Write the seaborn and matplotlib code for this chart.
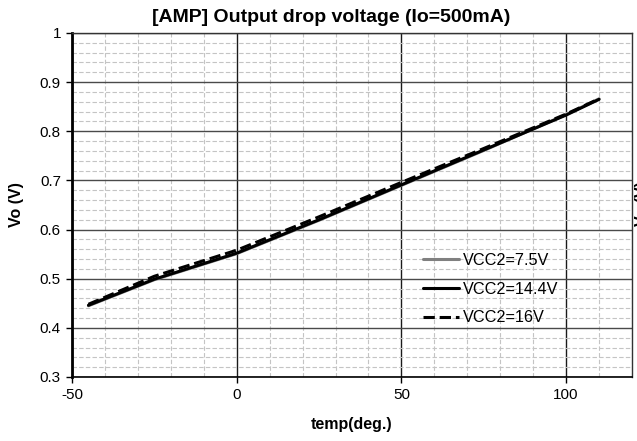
import matplotlib
matplotlib.use("Agg")
import matplotlib.pyplot as plt
from matplotlib.ticker import MultipleLocator
import seaborn as sns
import pandas as pd

# Measured output drop voltage vs. temperature at Io = 500 mA
temps = [-45, -25, 0, 25, 50, 75, 100, 110]
vo_vcc_7v5 = [0.445, 0.498, 0.551, 0.619, 0.690, 0.761, 0.834, 0.866]
vo_vcc_14v4 = [0.446, 0.499, 0.552, 0.620, 0.691, 0.762, 0.833, 0.865]
vo_vcc_16v = [0.448, 0.505, 0.558, 0.626, 0.696, 0.765, 0.835, 0.866]

series_labels = ["VCC2=7.5V", "VCC2=14.4V", "VCC2=16V"]
series_values = [vo_vcc_7v5, vo_vcc_14v4, vo_vcc_16v]
series_colors = ["#808080", "#000000", "#000000"]
series_styles = ["-", "-", "--"]

y_ticks = [0.3, 0.4, 0.5, 0.6, 0.7, 0.8, 0.9, 1.0]
y_tick_labels = ["0.3", "0.4", "0.5", "0.6", "0.7", "0.8", "0.9", "1"]

title_text = "[AMP] Output drop voltage (Io=500mA)"
x_label = "temp(deg.)"
y_label = "Vo (V)"

sns.set_theme(style="white")
plt.rcParams["font.family"] = ["Liberation Sans", "DejaVu Sans"]
plt.rcParams["text.color"] = "black"
plt.rcParams["axes.unicode_minus"] = False

W, H = 637, 441
fig = plt.figure(figsize=(W / 100, H / 100), dpi=100)
ax = fig.add_axes([72 / W, 1 - 377 / H, (632 - 72) / W, (377 - 33) / H])

for lab, vals, col, ls in zip(series_labels, series_values, series_colors, series_styles):
    df = pd.DataFrame({"temp": temps, "vo": vals})
    sns.lineplot(data=df, x="temp", y="vo", ax=ax, color=col, linestyle=ls,
                 linewidth=2.2, label=lab, zorder=3)

ax.set_xlim(-50, 120)
ax.set_ylim(0.3, 1.0)
ax.xaxis.set_major_locator(MultipleLocator(50))
ax.xaxis.set_minor_locator(MultipleLocator(10))
ax.yaxis.set_minor_locator(MultipleLocator(0.02))
ax.set_yticks(y_ticks)
ax.set_yticklabels(y_tick_labels)

ax.grid(which="minor", color="#c4c4c4", linestyle=(0, (4, 2)), linewidth=0.8, zorder=0)
ax.grid(which="major", axis="y", color="#4a4a4a", linestyle="-", linewidth=1.0, zorder=1)
ax.grid(which="major", axis="x", color="#1a1a1a", linestyle="-", linewidth=1.0, zorder=1)
ax.set_axisbelow(True)

ax.tick_params(which="major", direction="out", length=4, width=1, color="black",
               labelsize=11, labelcolor="black", bottom=True, left=True, pad=4)
ax.tick_params(which="minor", length=0)

for side in ["top", "right"]:
    ax.spines[side].set_color("#333333")
    ax.spines[side].set_linewidth(1.0)
ax.spines["bottom"].set_color("black")
ax.spines["bottom"].set_linewidth(1.2)
ax.spines["left"].set_color("black")
ax.spines["left"].set_linewidth(2.0)

ax.set_xlabel("")
ax.set_ylabel("")
fig.text(352 / W, 1 - 425 / H, x_label, ha="center", va="center",
         fontsize=11.5, fontweight="bold", color="black")
fig.text(17 / W, 1 - 205 / H, y_label, ha="center", va="center", rotation=90,
         fontsize=11.5, fontweight="bold", color="black")
# secondary axis caption sitting at the right border
fig.text(643 / W, 1 - 204 / H, y_label, ha="center", va="center", rotation=90,
         fontsize=11.5, fontweight="bold", color="black")
fig.text(331 / W, 1 - 18 / H, title_text, ha="center", va="center",
         fontsize=14, fontweight="bold", color="black")

leg = ax.legend(loc="upper left", bbox_to_anchor=(423 / W, 1 - 253 / H),
                bbox_transform=fig.transFigure, frameon=False, fontsize=11.7,
                handlelength=2.2, handletextpad=0.25, labelspacing=0.84,
                borderpad=0, borderaxespad=0)
for t in leg.get_texts():
    t.set_color("black")

fig.savefig("out.png", dpi=100)
